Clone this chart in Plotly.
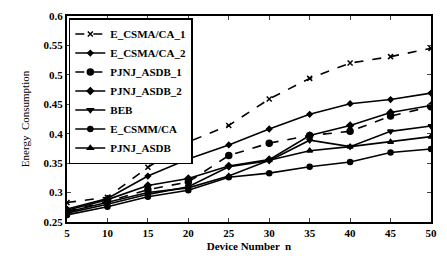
import plotly.graph_objects as go

x_vals = [5, 10, 15, 20, 25, 30, 35, 40, 45, 50]

e_csma_ca_1 = [0.283, 0.292, 0.343, 0.386, 0.414, 0.459, 0.494, 0.520, 0.531, 0.545]
e_csma_ca_2 = [0.272, 0.290, 0.328, 0.357, 0.381, 0.408, 0.433, 0.451, 0.458, 0.469]
pjnj_asdb_1 = [0.268, 0.285, 0.305, 0.318, 0.363, 0.384, 0.397, 0.404, 0.430, 0.446]
pjnj_asdb_2 = [0.270, 0.288, 0.312, 0.324, 0.345, 0.356, 0.397, 0.414, 0.436, 0.448]
beb = [0.265, 0.280, 0.297, 0.310, 0.344, 0.354, 0.389, 0.378, 0.404, 0.413]
e_csmm_ca = [0.262, 0.276, 0.293, 0.304, 0.326, 0.333, 0.344, 0.352, 0.368, 0.374]
pjnj_asdb = [0.267, 0.283, 0.300, 0.308, 0.328, 0.355, 0.371, 0.378, 0.386, 0.395]

y_ticks = [0.25, 0.3, 0.35, 0.4, 0.45, 0.5, 0.55, 0.6]
x_ticks = [5, 10, 15, 20, 25, 30, 35, 40, 45, 50]

series = [
    ("E_CSMA/CA_1", e_csma_ca_1, "dash", "x-thin", 5),
    ("E_CSMA/CA_2", e_csma_ca_2, "solid", "diamond", 4),
    ("PJNJ_ASDB_1", pjnj_asdb_1, "dash", "circle", 6),
    ("PJNJ_ASDB_2", pjnj_asdb_2, "solid", "diamond", 5),
    ("BEB", beb, "solid", "triangle-down", 5),
    ("E_CSMM/CA", e_csmm_ca, "solid", "circle", 5),
    ("PJNJ_ASDB", pjnj_asdb, "solid", "triangle-up", 5),
]

fig = go.Figure()
for name, ys, dash, sym, size in series:
    fig.add_trace(go.Scatter(
        x=x_vals, y=ys, name=name, mode="lines+markers",
        line=dict(color="black", width=1.6, dash=dash),
        marker=dict(symbol=sym, size=size, color="black",
                    line=dict(color="black", width=1.5)),
    ))

font_family = "Liberation Serif, Times New Roman, serif"

fig.update_layout(
    width=447, height=261,
    margin=dict(l=67, r=10, t=15, b=33),
    paper_bgcolor="white", plot_bgcolor="white",
    font=dict(family=font_family, color="black", size=11),
    showlegend=True,
    legend=dict(
        x=0.005, y=0.99, xanchor="left", yanchor="top",
        bgcolor="white", bordercolor="black", borderwidth=1.5,
        font=dict(family=font_family, size=11, color="black", weight="bold"),
        tracegroupgap=0, itemwidth=30,
    ),
    xaxis=dict(
        range=[5, 50], tickvals=x_ticks, ticks="inside", ticklen=4,
        showline=True, linecolor="black", linewidth=2, mirror="ticks",
        showgrid=False, zeroline=False,
        tickfont=dict(family=font_family, size=11, color="black", weight="bold"),
        title=dict(text="Device Number  n", standoff=4,
                   font=dict(family=font_family, size=11, color="black", weight="bold")),
    ),
    yaxis=dict(
        range=[0.25, 0.6], tickvals=y_ticks, ticks="inside", ticklen=4,
        showline=True, linecolor="black", linewidth=2, mirror="ticks",
        showgrid=False, zeroline=False,
        tickfont=dict(family=font_family, size=11, color="black", weight="bold"),
        title=dict(text="Energy  Consumption", standoff=12,
                   font=dict(family=font_family, size=11, color="black")),
    ),
)

fig.write_html("out.html", config={"displayModeBar": False},
               post_script="document.body.style.margin='0';")
